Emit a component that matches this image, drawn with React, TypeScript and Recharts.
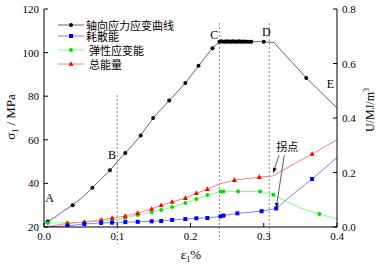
import { LineChart, Line, XAxis, YAxis, ReferenceLine, ReferenceDot } from 'recharts';

// strain ε1 (%) vs axial stress (MPa); m marks points drawn with a marker
const stressCurve = [
  { x: 0.0, y: 21.5 },
  { x: 0.005, y: 22.5, m: 1 },
  { x: 0.015, y: 24.5 },
  { x: 0.025, y: 27 },
  { x: 0.039, y: 30, m: 1 },
  { x: 0.052, y: 33.5 },
  { x: 0.066, y: 38, m: 1 },
  { x: 0.078, y: 42 },
  { x: 0.09, y: 46, m: 1 },
  { x: 0.1, y: 50 },
  { x: 0.111, y: 54, m: 1 },
  { x: 0.122, y: 58 },
  { x: 0.132, y: 62, m: 1 },
  { x: 0.149, y: 70, m: 1 },
  { x: 0.16, y: 74 },
  { x: 0.171, y: 78, m: 1 },
  { x: 0.182, y: 82 },
  { x: 0.193, y: 86, m: 1 },
  { x: 0.211, y: 94, m: 1 },
  { x: 0.23, y: 102, m: 1 },
  { x: 0.2395, y: 105, m: 1 },
  { x: 0.242, y: 105.2, m: 1 },
  { x: 0.244, y: 105, m: 1 },
  { x: 0.246, y: 105.1, m: 1 },
  { x: 0.248, y: 105, m: 1 },
  { x: 0.25, y: 105.2, m: 1 },
  { x: 0.252, y: 105, m: 1 },
  { x: 0.254, y: 105.1, m: 1 },
  { x: 0.256, y: 105, m: 1 },
  { x: 0.258, y: 105.2, m: 1 },
  { x: 0.26, y: 105, m: 1 },
  { x: 0.262, y: 105.1, m: 1 },
  { x: 0.264, y: 105, m: 1 },
  { x: 0.266, y: 105.2, m: 1 },
  { x: 0.268, y: 105, m: 1 },
  { x: 0.27, y: 105.1, m: 1 },
  { x: 0.272, y: 105, m: 1 },
  { x: 0.274, y: 105.1, m: 1 },
  { x: 0.277, y: 105, m: 1 },
  { x: 0.28, y: 105, m: 1 },
  { x: 0.283, y: 105, m: 1 },
  { x: 0.3, y: 105, m: 1 },
  { x: 0.314, y: 104.6 },
  { x: 0.358, y: 88.4, m: 1 },
  { x: 0.4, y: 74.6 },
];

// energies in MJ/m3
const dissipated = [
  { x: 0.0, y: 0.0 },
  { x: 0.032, y: 0.004, m: 1 },
  { x: 0.055, y: 0.011, m: 1 },
  { x: 0.078, y: 0.015, m: 1 },
  { x: 0.093, y: 0.016, m: 1 },
  { x: 0.111, y: 0.018, m: 1 },
  { x: 0.128, y: 0.019, m: 1 },
  { x: 0.147, y: 0.021, m: 1 },
  { x: 0.16, y: 0.022, m: 1 },
  { x: 0.175, y: 0.026, m: 1 },
  { x: 0.193, y: 0.029, m: 1 },
  { x: 0.208, y: 0.032, m: 1 },
  { x: 0.223, y: 0.033, m: 1 },
  { x: 0.241, y: 0.039, m: 1 },
  { x: 0.245, y: 0.042, m: 1 },
  { x: 0.264, y: 0.05, m: 1 },
  { x: 0.297, y: 0.058, m: 1 },
  { x: 0.317, y: 0.068, m: 1 },
  { x: 0.342, y: 0.125 },
  { x: 0.366, y: 0.176, m: 1 },
  { x: 0.4, y: 0.255 },
];

const elastic = [
  { x: 0.005, y: 0.015, m: 1 },
  { x: 0.032, y: 0.015, m: 1 },
  { x: 0.055, y: 0.018, m: 1 },
  { x: 0.078, y: 0.022, m: 1 },
  { x: 0.093, y: 0.026, m: 1 },
  { x: 0.111, y: 0.033, m: 1 },
  { x: 0.128, y: 0.044, m: 1 },
  { x: 0.147, y: 0.055, m: 1 },
  { x: 0.16, y: 0.062, m: 1 },
  { x: 0.175, y: 0.073, m: 1 },
  { x: 0.193, y: 0.088, m: 1 },
  { x: 0.208, y: 0.103, m: 1 },
  { x: 0.223, y: 0.117, m: 1 },
  { x: 0.241, y: 0.13, m: 1 },
  { x: 0.245, y: 0.13, m: 1 },
  { x: 0.265, y: 0.13, m: 1 },
  { x: 0.295, y: 0.13, m: 1 },
  { x: 0.313, y: 0.118, m: 1 },
  { x: 0.33, y: 0.095 },
  { x: 0.35, y: 0.07 },
  { x: 0.376, y: 0.048, m: 1 },
  { x: 0.4, y: 0.029 },
];

const total = [
  { x: 0.0, y: 0.0 },
  { x: 0.032, y: 0.013, m: 1 },
  { x: 0.055, y: 0.018, m: 1 },
  { x: 0.078, y: 0.026, m: 1 },
  { x: 0.093, y: 0.033, m: 1 },
  { x: 0.111, y: 0.04, m: 1 },
  { x: 0.128, y: 0.051, m: 1 },
  { x: 0.147, y: 0.066, m: 1 },
  { x: 0.16, y: 0.08, m: 1 },
  { x: 0.175, y: 0.092, m: 1 },
  { x: 0.193, y: 0.106, m: 1 },
  { x: 0.208, y: 0.124, m: 1 },
  { x: 0.223, y: 0.139, m: 1 },
  { x: 0.24, y: 0.158 },
  { x: 0.26, y: 0.172, m: 1 },
  { x: 0.294, y: 0.183, m: 1 },
  { x: 0.312, y: 0.187 },
  { x: 0.366, y: 0.268, m: 1 },
  { x: 0.4, y: 0.32 },
];

const xTicks = [0, 0.1, 0.2, 0.3, 0.4];
const stressTicks = [20, 40, 60, 80, 100, 120];
const energyTicks = [0, 0.2, 0.4, 0.6, 0.8];

const legendItems = [
  { name: '轴向应力应变曲线', line: '#666', marker: 'circle', color: '#000' },
  { name: '耗散能', line: '#8080ff', marker: 'square', color: '#0000ff' },
  { name: '弹性应变能', line: '#80ff80', marker: 'circle', color: '#00e000' },
  { name: '总能量', line: '#ff8080', marker: 'triangle', color: '#ff0000' },
];
// legend row centres and text offsets (px)
const legendRowY = [25, 36, 50, 64];
const legendTextX = [86, 86, 89, 89];

const serif = 'Liberation Serif, Times New Roman, serif';
const cjk = '"Noto Sans CJK SC", sans-serif';

function Marker({ cx, cy, kind, color }: any) {
  if (kind === 'square') {
    return <rect x={cx - 2} y={cy - 2} width={4} height={4} fill={color} />;
  }
  if (kind === 'triangle') {
    return <polygon points={`${cx},${cy - 2.8} ${cx - 2.5},${cy + 1.8} ${cx + 2.5},${cy + 1.8}`} fill={color} />;
  }
  return <circle cx={cx} cy={cy} r={2} fill={color} />;
}

const makeDot = (kind: string, color: string) => (p: any) => {
  if (!p.payload?.m) return <g key={p.index} />;
  return (
    <g key={p.index}>
      <Marker cx={p.cx} cy={p.cy} kind={kind} color={color} />
    </g>
  );
};

const LeftTick = ({ x, y, payload }: any) => (
  <g>
    <line x1={x} y1={y} x2={x + 4} y2={y} stroke="#000" />
    <text x={x - 5} y={y + 4} textAnchor="end" fontSize={11} fontFamily={serif} fill="#000">
      {payload.value}
    </text>
  </g>
);

const RightTick = ({ x, y, payload }: any) => (
  <g>
    <line x1={x} y1={y} x2={x - 4} y2={y} stroke="#000" />
    <text x={x + 5} y={y + 4} textAnchor="start" fontSize={11} fontFamily={serif} fill="#000">
      {Number(payload.value).toFixed(1)}
    </text>
  </g>
);

const BottomTick = ({ x, y, payload }: any) => (
  <g>
    <line x1={x} y1={y} x2={x} y2={y - 4} stroke="#000" />
    <text x={x} y={y + 13} textAnchor="middle" fontSize={11} fontFamily={serif} fill="#000">
      {Number(payload.value).toFixed(1)}
    </text>
  </g>
);

const Arrow = (p: any) => {
  const { x1, y1, x2, y2 } = p;
  const a = Math.atan2(y2 - y1, x2 - x1);
  const len = 5;
  const w = 2;
  const bx = x2 - len * Math.cos(a);
  const by = y2 - len * Math.sin(a);
  const pts = `${x2},${y2} ${bx + w * Math.sin(a)},${by - w * Math.cos(a)} ${bx - w * Math.sin(a)},${by + w * Math.cos(a)}`;
  return (
    <g>
      <line x1={x1} y1={y1} x2={bx} y2={by} stroke="#333" strokeWidth={0.8} />
      <polygon points={pts} fill="#000" />
    </g>
  );
};

const letter = (t: string) => ({ value: t, position: 'center' as const, fill: '#000', fontSize: 12, fontFamily: serif });

export default function App() {
  return (
    <div style={{ position: 'absolute', left: 0, top: 0, width: 378, height: 267, background: '#fff' }}>
      <LineChart width={378} height={267} margin={{ top: 9, right: 0, bottom: 0, left: 0 }}>
        <XAxis
          type="number"
          dataKey="x"
          domain={[0, 0.4]}
          ticks={xTicks}
          height={40}
          tickSize={0}
          tickMargin={0}
          tick={<BottomTick />}
          stroke="#000"
          allowDataOverflow
          label={{
            content: () => (
              <text x={191} y={259} textAnchor="middle" fontSize={13} fontFamily={serif} fill="#000">
                ε<tspan fontSize={8} dy={3}>1</tspan>
                <tspan dy={-3}>%</tspan>
              </text>
            ),
          }}
        />
        <YAxis
          yAxisId="left"
          type="number"
          domain={[20, 120]}
          ticks={stressTicks}
          width={44}
          tickSize={0}
          tickMargin={0}
          tick={<LeftTick />}
          stroke="#000"
          allowDataOverflow
          label={{
            content: () => (
              <text
                x={15}
                y={117}
                textAnchor="middle"
                fontSize={13}
                fontFamily={serif}
                fill="#000"
                transform="rotate(-90 15 117)"
              >
                σ<tspan fontSize={8} dy={3}>1</tspan>
                <tspan dy={-3}> / MPa</tspan>
              </text>
            ),
          }}
        />
        <YAxis
          yAxisId="right"
          orientation="right"
          type="number"
          domain={[0, 0.8]}
          ticks={energyTicks}
          width={41}
          tickSize={0}
          tickMargin={0}
          tick={<RightTick />}
          stroke="#000"
          allowDataOverflow
          label={{
            content: () => (
              <text
                x={374}
                y={110}
                textAnchor="middle"
                fontSize={12}
                fontFamily={serif}
                fill="#000"
                transform="rotate(-90 374 110)"
              >
                U/MJ/m<tspan fontSize={8} dy={-5}>3</tspan>
              </text>
            ),
          }}
        />

        <ReferenceLine
          yAxisId="left"
          segment={[{ x: 0.1, y: 80.5 }, { x: 0.1, y: 12 }]}
          stroke="#888"
          strokeDasharray="2 2"
          ifOverflow="visible"
        />
        <ReferenceLine
          yAxisId="left"
          segment={[{ x: 0.2395, y: 113.6 }, { x: 0.2395, y: 14 }]}
          stroke="#888"
          strokeDasharray="2 2"
          ifOverflow="visible"
        />
        <ReferenceLine
          yAxisId="left"
          segment={[{ x: 0.3076, y: 113.6 }, { x: 0.3076, y: 14 }]}
          stroke="#888"
          strokeDasharray="2 2"
          ifOverflow="visible"
        />

        <Line
          yAxisId="left"
          data={stressCurve}
          dataKey="y"
          type="linear"
          stroke="#666"
          strokeWidth={1}
          dot={makeDot('circle', '#000')}
          activeDot={false}
          isAnimationActive={false}
        />
        <Line
          yAxisId="right"
          data={elastic}
          dataKey="y"
          type="linear"
          stroke="#80ff80"
          strokeWidth={1}
          dot={makeDot('circle', '#00e000')}
          activeDot={false}
          isAnimationActive={false}
        />
        <Line
          yAxisId="right"
          data={total}
          dataKey="y"
          type="linear"
          stroke="#ff8080"
          strokeWidth={1}
          dot={makeDot('triangle', '#ff0000')}
          activeDot={false}
          isAnimationActive={false}
        />
        <Line
          yAxisId="right"
          data={dissipated}
          dataKey="y"
          type="linear"
          stroke="#8080ff"
          strokeWidth={1}
          dot={makeDot('square', '#0000ff')}
          activeDot={false}
          isAnimationActive={false}
        />

        <ReferenceLine
          yAxisId="left"
          segment={[{ x: 0.321, y: 53 }, { x: 0.313, y: 44.8 }]}
          shape={Arrow}
          ifOverflow="visible"
        />
        <ReferenceLine
          yAxisId="left"
          segment={[{ x: 0.328, y: 53 }, { x: 0.317, y: 28.7 }]}
          shape={Arrow}
          ifOverflow="visible"
        />

        <ReferenceDot yAxisId="left" x={0.0075} y={33.3} r={0} fill="none" stroke="none" label={letter('A')} />
        <ReferenceDot yAxisId="left" x={0.093} y={53} r={0} fill="none" stroke="none" label={letter('B')} />
        <ReferenceDot yAxisId="left" x={0.2326} y={108} r={0} fill="none" stroke="none" label={letter('C')} />
        <ReferenceDot yAxisId="left" x={0.3035} y={109.4} r={0} fill="none" stroke="none" label={letter('D')} />
        <ReferenceDot yAxisId="left" x={0.391} y={85.6} r={0} fill="none" stroke="none" label={letter('E')} />
        <ReferenceDot
          yAxisId="left"
          x={0.332}
          y={56.7}
          r={0}
          fill="none"
          stroke="none"
          label={{ value: '拐点', position: 'center', fill: '#000', fontSize: 11, fontFamily: cjk }}
        />
      </LineChart>

      {legendItems.map((it, i) => (
        <div key={it.name}>
          <svg
            width={28}
            height={10}
            style={{ position: 'absolute', left: 57, top: legendRowY[i] - 5, display: 'block' }}
          >
            <line x1={1} y1={5} x2={27} y2={5} stroke={it.line} strokeWidth={1} />
            <Marker cx={14} cy={5} kind={it.marker} color={it.color} />
          </svg>
          <span
            style={{
              position: 'absolute',
              left: legendTextX[i],
              top: legendRowY[i] - 5.5,
              height: 11,
              lineHeight: '11px',
              fontSize: 11,
              fontFamily: cjk,
              color: '#000',
              whiteSpace: 'nowrap',
            }}
          >
            {it.name}
          </span>
        </div>
      ))}
    </div>
  );
}
